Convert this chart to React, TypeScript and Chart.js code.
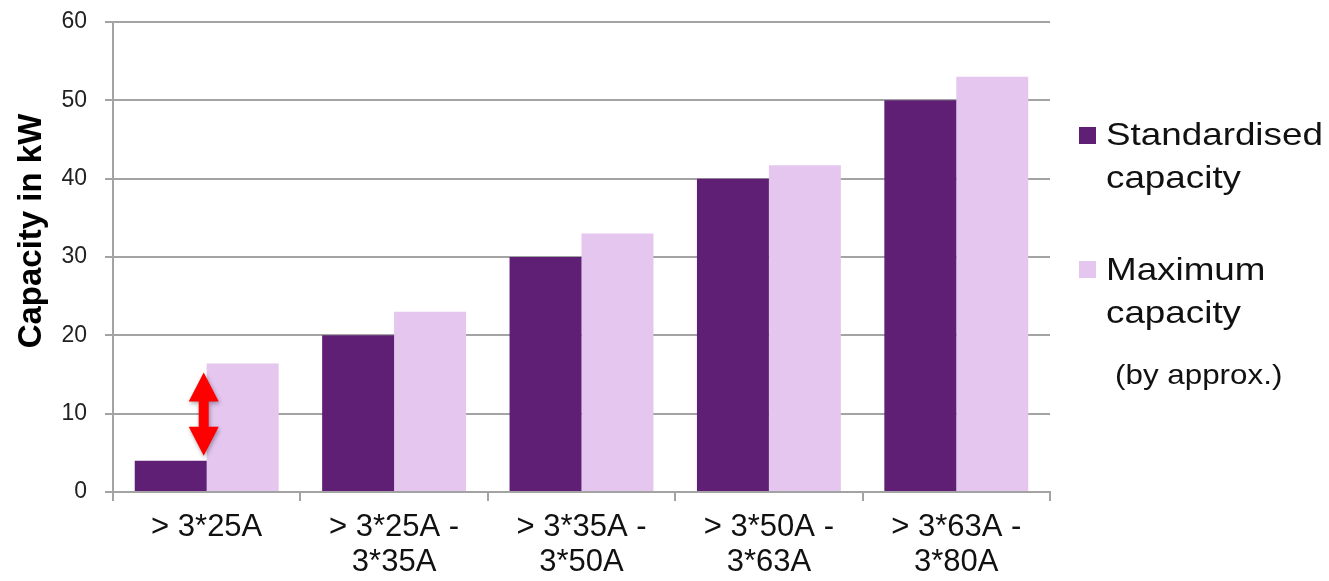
import React, { useEffect, useRef } from "react";
import { Chart, registerables } from "chart.js";

Chart.register(...registerables);

const categories: string[][] = [
  ["> 3*25A"],
  ["> 3*25A -", "3*35A"],
  ["> 3*35A -", "3*50A"],
  ["> 3*50A -", "3*63A"],
  ["> 3*63A -", "3*80A"],
];
const standardisedCapacity = [4, 20, 30, 40, 50];
const maximumCapacity = [16.4, 23, 33, 41.7, 53];
const yTicks = [0, 10, 20, 30, 40, 50, 60];

const seriesNames = ["Standardised capacity", "Maximum capacity"];
const DARK = "#5E1F74";
const LIGHT = "#E4C6EF";
const GRID = "#a3a3a3";
const FONT = "'Liberation Sans', Arial, sans-serif";

const yTitlePlugin = {
  id: "yTitle",
  afterDraw(chart: any) {
    const ctx = chart.ctx;
    ctx.save();
    ctx.translate(32, 231);
    ctx.rotate(-Math.PI / 2);
    ctx.font = `bold 33px ${FONT}`;
    ctx.fillStyle = "#000";
    ctx.textAlign = "center";
    ctx.textBaseline = "middle";
    ctx.fillText("Capacity in kW", 0, 0);
    ctx.restore();
  },
};

const arrowPlugin = {
  id: "gapArrow",
  afterDatasetsDraw(chart: any) {
    const meta = chart.getDatasetMeta(0);
    const bar = meta.data[0];
    if (!bar) return;
    const yScale = chart.scales.y;
    const cx = bar.x + bar.width / 2 - 3;
    const top = yScale.getPixelForValue(maximumCapacity[0]) + 9;
    const bottom = yScale.getPixelForValue(standardisedCapacity[0]) - 5;
    const headH = 29;
    const headW = 15;
    const shaftW = 5;
    const ctx = chart.ctx;
    ctx.save();
    ctx.shadowColor = "rgba(0,0,0,0.35)";
    ctx.shadowBlur = 4;
    ctx.shadowOffsetX = 1;
    ctx.shadowOffsetY = 2;
    ctx.fillStyle = "#FF0000";
    ctx.beginPath();
    ctx.moveTo(cx, top);
    ctx.lineTo(cx + headW, top + headH);
    ctx.lineTo(cx + shaftW, top + headH);
    ctx.lineTo(cx + shaftW, bottom - headH);
    ctx.lineTo(cx + headW, bottom - headH);
    ctx.lineTo(cx, bottom);
    ctx.lineTo(cx - headW, bottom - headH);
    ctx.lineTo(cx - shaftW, bottom - headH);
    ctx.lineTo(cx - shaftW, top + headH);
    ctx.lineTo(cx - headW, top + headH);
    ctx.closePath();
    ctx.fill();
    ctx.restore();
  },
};

export default function App() {
  const canvasRef = useRef<HTMLCanvasElement | null>(null);

  useEffect(() => {
    document.body.style.margin = "0";
    const canvas = canvasRef.current;
    if (!canvas) return;
    const chart = new Chart(canvas, {
      type: "bar",
      data: {
        labels: categories,
        datasets: [
          {
            label: seriesNames[0],
            data: standardisedCapacity,
            backgroundColor: DARK,
            borderWidth: 0,
            categoryPercentage: 0.768,
            barPercentage: 1,
          },
          {
            label: seriesNames[1],
            data: maximumCapacity,
            backgroundColor: LIGHT,
            borderWidth: 0,
            categoryPercentage: 0.768,
            barPercentage: 1,
          },
        ],
      },
      options: {
        responsive: false,
        animation: false,
        devicePixelRatio: 1,
        layout: { padding: { left: 0, top: 22, right: 279, bottom: 0 } },
        plugins: {
          legend: { display: false },
          tooltip: { enabled: false },
          title: { display: false },
        },
        scales: {
          x: {
            grid: {
              offset: true,
              drawOnChartArea: false,
              drawTicks: true,
              tickLength: 9,
              color: GRID,
              lineWidth: 2,
            },
            border: { display: true, color: GRID, width: 2 },
            ticks: {
              color: "#111",
              font: { family: FONT, size: 31, lineHeight: 1.13 },
              padding: 9,
              maxRotation: 0,
              autoSkip: false,
            },
            afterFit(scale: any) {
              scale.height = 89;
              scale.paddingLeft = 0;
              scale.paddingRight = 0;
            },
          },
          y: {
            min: 0,
            max: 60,
            afterBuildTicks(scale: any) {
              scale.ticks = yTicks.map((v) => ({ value: v }));
            },
            grid: {
              color: GRID,
              lineWidth: 2,
              tickLength: 8,
              drawTicks: true,
            },
            border: { display: true, color: GRID, width: 2 },
            ticks: {
              color: "#222",
              font: { family: FONT, size: 23 },
              padding: 18,
            },
            afterFit(scale: any) {
              scale.width = 113;
              scale.paddingTop = 0;
              scale.paddingBottom = 0;
            },
          },
        },
      },
      plugins: [yTitlePlugin, arrowPlugin],
    });
    return () => chart.destroy();
  }, []);

  const textBase: React.CSSProperties = {
    position: "absolute",
    fontFamily: FONT,
    color: "#111",
    whiteSpace: "nowrap",
    transformOrigin: "0 0",
  };

  return (
    <div style={{ position: "relative", width: 1329, height: 581, background: "#fff" }}>
      <canvas ref={canvasRef} width={1329} height={581} style={{ display: "block" }} />
      <div style={{ position: "absolute", left: 1079, top: 127, width: 17, height: 17, background: DARK }} />
      <div style={{ ...textBase, left: 1106, top: 113, fontSize: 32, lineHeight: "43px", transform: "scaleX(1.15)" }}>
        Standardised
        <br />
        capacity
      </div>
      <div style={{ position: "absolute", left: 1079, top: 261, width: 17, height: 17, background: LIGHT }} />
      <div style={{ ...textBase, left: 1106, top: 248, fontSize: 32, lineHeight: "43px", transform: "scaleX(1.15)" }}>
        Maximum
        <br />
        capacity
      </div>
      <div style={{ ...textBase, left: 1115, top: 358, fontSize: 28, lineHeight: "34px", transform: "scaleX(1.12)" }}>
        (by approx.)
      </div>
    </div>
  );
}
